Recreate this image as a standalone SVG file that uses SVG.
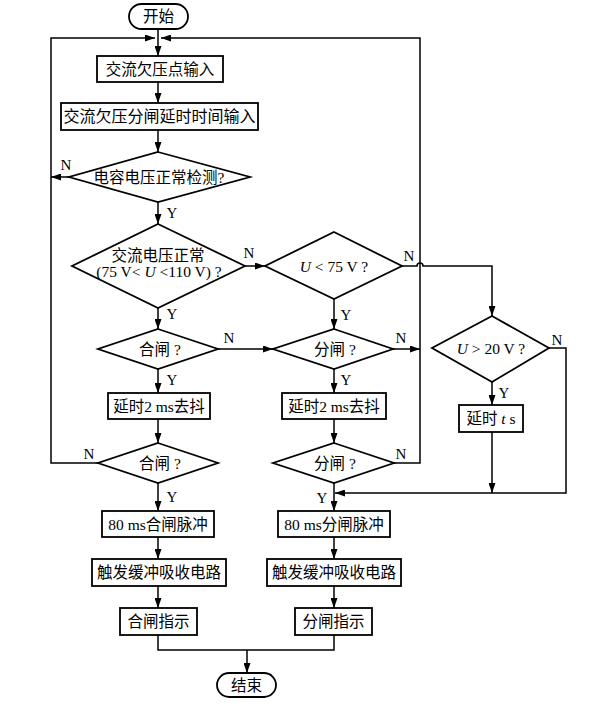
<svg xmlns="http://www.w3.org/2000/svg" width="602" height="706" viewBox="0 0 602 706">
<defs>
<marker id="arr" markerWidth="10" markerHeight="7" refX="10" refY="3.5" orient="auto" markerUnits="userSpaceOnUse">
<path d="M0,0 L10,3.5 L0,7 z" fill="#000"/>
</marker>
<style>
.s{fill:#fff;stroke:#000;stroke-width:1.8}
.c{fill:none;stroke:#000;stroke-width:1.5}
.a{marker-end:url(#arr)}
.t{font-family:"Liberation Serif","Noto Sans CJK SC",serif;font-size:15.5px;fill:#000;text-anchor:middle}
.w{font-size:16px}
.l{font-family:"Liberation Serif","Noto Sans CJK SC",serif;font-size:15px;fill:#000;text-anchor:middle}
.i{font-style:italic}
</style>
</defs>
<rect width="602" height="706" fill="#fff"/>
<g id="connectors">
<path class="c a" d="M158,29 V56"/>
<path class="c a" d="M98,463 H51 V38 H155"/>
<path class="c a" d="M393,463 H420 V38 H161"/>
<path class="c a" d="M158,82 V103"/>
<path class="c a" d="M158,130 V152"/>
<path class="c a" d="M69,177 H51"/>
<path class="c a" d="M158,202 V224"/>
<path class="c a" d="M245,266 H265"/>
<path class="c a" d="M158,308 V329"/>
<path class="c a" d="M402,266 H417 A3,3 0 0 1 423,266 H492 V316"/>
<path class="c a" d="M334,299 V329"/>
<path class="c a" d="M218,349 H273"/>
<path class="c a" d="M393,349 H420"/>
<path class="c a" d="M158,369 V393"/>
<path class="c a" d="M334,369 V393"/>
<path class="c a" d="M158,419 V443"/>
<path class="c a" d="M334,419 V443"/>
<path class="c a" d="M158,483 V511"/>
<path class="c a" d="M334,483 V511"/>
<path class="c a" d="M549,348 H566 V493 H335"/>
<path class="c a" d="M492,382 V405"/>
<path class="c a" d="M492,432 V493"/>
<path class="c a" d="M158,537 V559"/>
<path class="c a" d="M334,537 V559"/>
<path class="c a" d="M158,586 V608"/>
<path class="c a" d="M334,586 V608"/>
<path class="c" d="M158,635 V650 H334 V635"/>
<path class="c a" d="M247,650 V673"/>
</g>
<g id="labels">
<text class="l" x="66" y="170">N</text>
<text class="l" x="172" y="218">Y</text>
<text class="l" x="249" y="258">N</text>
<text class="l" x="409" y="261">N</text>
<text class="l" x="172" y="319">Y</text>
<text class="l" x="346" y="320">Y</text>
<text class="l" x="229" y="343">N</text>
<text class="l" x="401" y="343">N</text>
<text class="l" x="557" y="345">N</text>
<text class="l" x="172" y="385">Y</text>
<text class="l" x="346" y="385">Y</text>
<text class="l" x="504" y="398">Y</text>
<text class="l" x="89" y="459">N</text>
<text class="l" x="401" y="459">N</text>
<text class="l" x="172" y="502">Y</text>
<text class="l" x="322" y="503">Y</text>
</g>
<g id="start"><rect class="s" x="129" y="4" width="59" height="25" rx="12.5"/><text class="t" x="158.5" y="22">开始</text></g>
<g id="box1"><rect class="s" x="97" y="56" width="126" height="26"/><text class="t" x="160" y="75">交流欠压点输入</text></g>
<g id="box2"><rect class="s" x="61" y="103" width="197" height="27"/><text class="t w" x="159.5" y="122">交流欠压分闸延时时间输入</text></g>
<g id="d1"><polygon class="s" points="158,152 250,177 158,202 69,177"/><text class="t" x="159" y="183">电容电压正常检测?</text></g>
<g id="d2"><polygon class="s" points="158,224 245,266 158,308 72,266"/><text class="t" x="158" y="261">交流电压正常</text><text class="t" x="159" y="277">(75 V&lt; <tspan class="i">U</tspan> &lt;110 V) ?</text></g>
<g id="d3"><polygon class="s" points="334,232 402,266 334,299 265,266"/><text class="t" x="334" y="272"><tspan class="i">U</tspan> &lt; 75 V ?</text></g>
<g id="d4"><polygon class="s" points="492,316 549,348 492,382 432,348"/><text class="t" x="491" y="354"><tspan class="i">U</tspan> &gt; 20 V ?</text></g>
<g id="close1"><polygon class="s" points="158,329 218,349 158,369 98,349"/><text class="t" x="160" y="355">合闸 ?</text></g>
<g id="open1"><polygon class="s" points="334,329 393,349 334,369 273,349"/><text class="t" x="335" y="355">分闸 ?</text></g>
<g id="delayL"><rect class="s" x="108" y="393" width="102" height="26"/><text class="t" x="159" y="412">延时2 ms去抖</text></g>
<g id="delayR"><rect class="s" x="282" y="393" width="104" height="26"/><text class="t" x="334" y="412">延时2 ms去抖</text></g>
<g id="delayT"><rect class="s" x="459" y="405" width="64" height="27"/><text class="t" x="491" y="424">延时 <tspan class="i">t</tspan> s</text></g>
<g id="close2"><polygon class="s" points="158,443 218,463 158,483 98,463"/><text class="t" x="160" y="469">合闸 ?</text></g>
<g id="open2"><polygon class="s" points="334,443 394,463 334,483 273,463"/><text class="t" x="335" y="469">分闸 ?</text></g>
<g id="pulseL"><rect class="s" x="102" y="511" width="112" height="26"/><text class="t" x="158" y="530">80 ms合闸脉冲</text></g>
<g id="pulseR"><rect class="s" x="278" y="511" width="112" height="26"/><text class="t" x="334" y="530">80 ms分闸脉冲</text></g>
<g id="trigL"><rect class="s" x="92" y="559" width="134" height="27"/><text class="t" x="159" y="578">触发缓冲吸收电路</text></g>
<g id="trigR"><rect class="s" x="267" y="559" width="134" height="27"/><text class="t" x="334" y="578">触发缓冲吸收电路</text></g>
<g id="indL"><rect class="s" x="120" y="608" width="77" height="27"/><text class="t" x="158.5" y="627">合闸指示</text></g>
<g id="indR"><rect class="s" x="295" y="608" width="77" height="27"/><text class="t" x="333.5" y="627">分闸指示</text></g>
<g id="end"><rect class="s" x="217" y="673" width="59" height="24" rx="12"/><text class="t" x="246.5" y="691">结束</text></g>
</svg>
